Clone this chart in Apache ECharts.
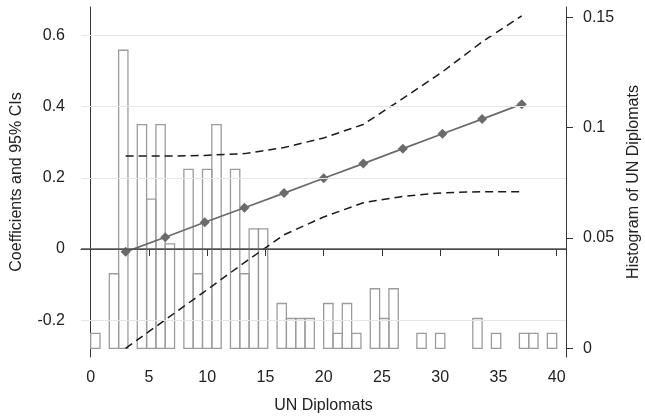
<!DOCTYPE html>
<html>
<head>
<meta charset="utf-8">
<script src="https://cdn.jsdelivr.net/npm/echarts@6/dist/echarts.min.js"></script>
<style>html,body{margin:0;padding:0;background:#fff}#c{width:645px;height:420px}</style>
</head>
<body>
<div id="c"></div>
<script>
// ---- data ----
var xPoints = [3, 6.4, 9.8, 13.2, 16.6, 20, 23.4, 26.8, 30.2, 33.6, 37];
var coef    = [-0.008, 0.033, 0.075, 0.116, 0.157, 0.199, 0.240, 0.282, 0.324, 0.365, 0.407];
var ciUpper = [0.261, 0.261, 0.263, 0.268, 0.285, 0.312, 0.350, 0.423, 0.498, 0.582, 0.655];
var ciLower = [-0.279, -0.199, -0.119, -0.038, 0.040, 0.090, 0.130, 0.148, 0.158, 0.161, 0.161];

var binWidth = 0.8;
var binStart = [0, 1.6, 2.4, 4.0, 4.8, 5.6, 6.4, 8.0, 8.8, 9.6, 10.4, 12.0, 12.8, 13.6, 14.4,
                16.0, 16.8, 17.6, 18.4, 20.0, 20.8, 21.6, 22.4, 24.0, 24.8, 25.6, 28.0, 29.6,
                32.8, 34.4, 36.8, 37.6, 39.2];
var density = [0.0068, 0.0338, 0.1351, 0.1014, 0.0676, 0.1014, 0.0473, 0.0811, 0.0338, 0.0811, 0.1014, 0.0811, 0.0338, 0.0541, 0.0541,
               0.0203, 0.0135, 0.0135, 0.0135, 0.0203, 0.0068, 0.0203, 0.0068, 0.0270, 0.0135, 0.0270, 0.0068, 0.0068,
               0.0135, 0.0068, 0.0068, 0.0068, 0.0068];

var xTicks = [0, 5, 10, 15, 20, 25, 30, 35, 40];
var yLeftTicks = [-0.2, 0, 0.2, 0.4, 0.6];
var yRightTicks = [0, 0.05, 0.1, 0.15];
var gridLines = [-0.2, 0.2, 0.4, 0.6];

// ---- chart ----
var font = 'Liberation Sans, Arial, sans-serif';
var chart = echarts.init(document.getElementById('c'), null, {renderer: 'canvas'});

function pair(xs, ys) { return xs.map(function (x, i) { return [x, ys[i]]; }); }
var histData = binStart.map(function (s, i) { return [s, s + binWidth, density[i]]; });

chart.setOption({
  animation: false,
  backgroundColor: '#fff',
  grid: {left: 81, right: 79, top: 7, bottom: 63, containLabel: false, outerBoundsMode: 'none'},
  xAxis: {
    type: 'value', min: -0.83, max: 40.8,
    name: 'UN Diplomats', nameLocation: 'middle', nameGap: 41,
    nameTextStyle: {fontFamily: font, fontSize: 16, color: '#222'},
    axisLine: {lineStyle: {color: '#333', width: 1}},
    axisTick: {customValues: xTicks, length: 7, lineStyle: {color: '#333'}},
    axisLabel: {customValues: xTicks, margin: 13, fontFamily: font, fontSize: 16, color: '#222'},
    splitLine: {show: false}
  },
  yAxis: [{
    type: 'value', min: -0.3035, max: 0.680, position: 'left',
    name: 'Coefficients and 95% CIs', nameLocation: 'middle', nameGap: 56, nameRotate: 90,
    nameTextStyle: {fontFamily: font, fontSize: 16, color: '#222'},
    axisLine: {show: true, lineStyle: {color: '#333', width: 1}},
    axisTick: {show: true, customValues: yLeftTicks, length: 7, lineStyle: {color: '#333'}},
    axisLabel: {customValues: yLeftTicks, margin: 16, fontFamily: font, fontSize: 16, color: '#222',
      formatter: function (v) { return String(Math.round(v * 10) / 10); }},
    splitLine: {show: false}
  }, {
    type: 'value', min: -0.00394, max: 0.1547, position: 'right',
    name: 'Histogram of UN Diplomats', nameLocation: 'middle', nameGap: 60, nameRotate: 90,
    nameTextStyle: {fontFamily: font, fontSize: 16, color: '#222'},
    axisLine: {show: true, lineStyle: {color: '#333', width: 1}},
    axisTick: {show: true, customValues: yRightTicks, length: 7, lineStyle: {color: '#333'}},
    axisLabel: {customValues: yRightTicks, margin: 17, fontFamily: font, fontSize: 16, color: '#222',
      formatter: function (v) { return String(Math.round(v * 100) / 100); }},
    splitLine: {show: false}
  }],
  series: [{
    type: 'line', data: [], yAxisIndex: 0, silent: true, z: 1,
    markLine: {
      silent: true, symbol: 'none', label: {show: false},
      data: gridLines.map(function (v) { return {yAxis: v, lineStyle: {color: '#e6e6e6', width: 1.2, type: 'solid'}}; })
        .concat([{yAxis: 0, lineStyle: {color: '#555', width: 1.6, type: 'solid'}}])
    }
  }, {
    type: 'custom', yAxisIndex: 1, z: 2, data: histData,
    renderItem: function (params, api) {
      var p0 = api.coord([api.value(0), api.value(2)]);
      var p1 = api.coord([api.value(1), 0]);
      return {type: 'rect', shape: {x: p0[0], y: p0[1], width: p1[0] - p0[0], height: p1[1] - p0[1]},
        style: {fill: null, stroke: '#9c9c9c', lineWidth: 1.3}};
    }
  }, {
    type: 'line', yAxisIndex: 0, z: 4, data: pair(xPoints, coef),
    symbol: 'diamond', symbolSize: 10, showSymbol: true,
    lineStyle: {color: '#6b6b6b', width: 1.7}, itemStyle: {color: '#6b6b6b'}
  }, {
    type: 'line', yAxisIndex: 0, z: 3, data: pair(xPoints, ciUpper), symbol: 'none',
    lineStyle: {color: '#1a1a1a', width: 1.5, type: [8, 5]}
  }, {
    type: 'line', yAxisIndex: 0, z: 3, data: pair(xPoints, ciLower), symbol: 'none',
    lineStyle: {color: '#1a1a1a', width: 1.5, type: [8, 5]}
  }]
});
</script>
</body>
</html>
